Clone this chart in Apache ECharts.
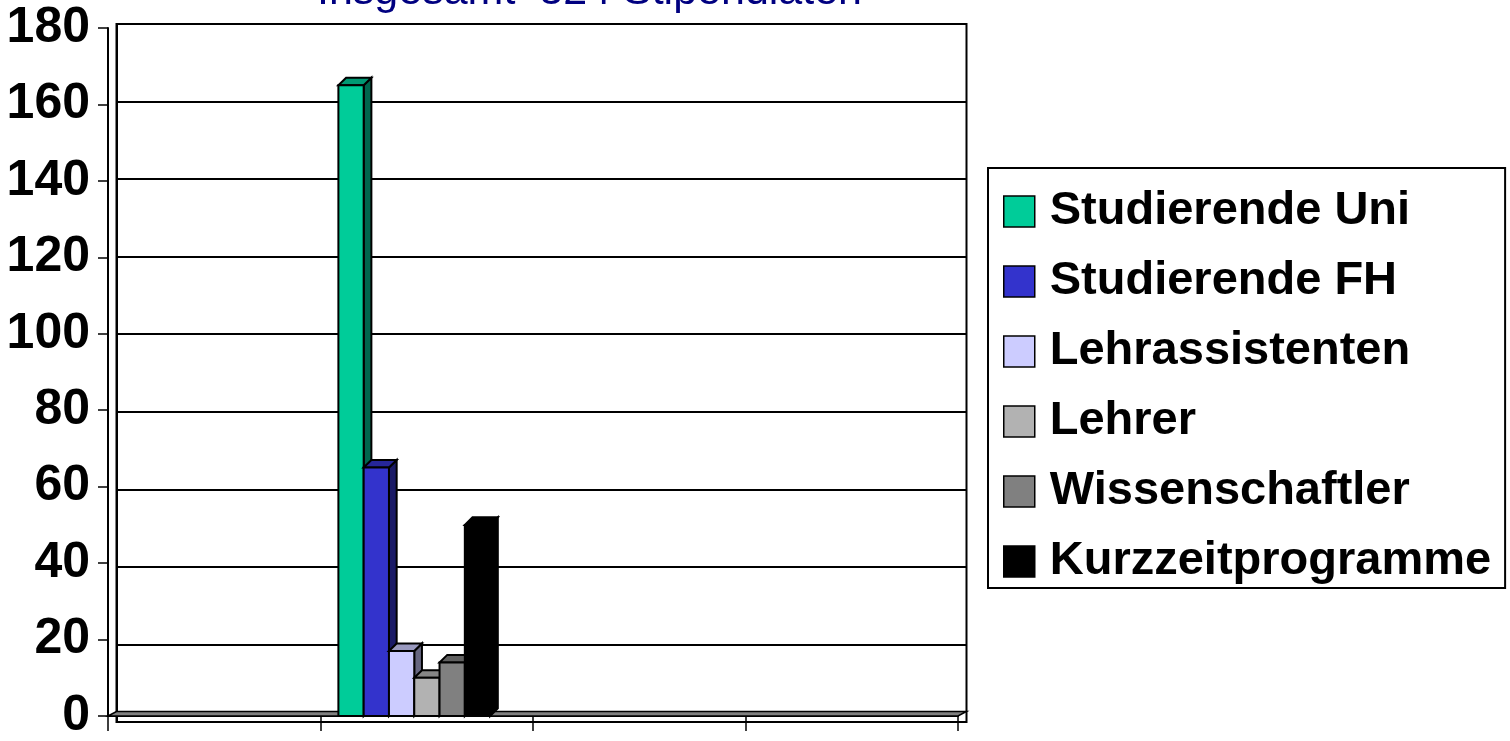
<!DOCTYPE html>
<html>
<head>
<meta charset="utf-8">
<title>Stipendiaten</title>
<script src="https://cdn.jsdelivr.net/npm/echarts@6/dist/echarts.min.js"></script>
<style>
  html, body { margin: 0; padding: 0; background: #fff; }
  #main { width: 1510px; height: 741px; }
</style>
</head>
<body>
<div id="main"></div>
<script>
// data
var categories = ['1', '2', '3', '4'];
var groupNames = ['Studierende Uni', 'Studierende FH', 'Lehrassistenten', 'Lehrer', 'Wissenschaftler', 'Kurzzeitprogramme'];
var groupValues = [165, 65, 17, 10, 14, 50];
var groupColors = ['#00CC99', '#3333CC', '#CCCCFF', '#B2B2B2', '#808080', '#000000'];
var yTicks = [0, 20, 40, 60, 80, 100, 120, 140, 160, 180];
var titleText = 'Insgesamt  324 Stipendiaten';

var FONT = '"Liberation Sans", Arial, sans-serif';
var DX = 7.7, DY = 7.6;   // fake 3d depth of the bars

function shade(hex, f) {
    var n = parseInt(hex.slice(1), 16);
    var r = Math.round(((n >> 16) & 255) * f);
    var g = Math.round(((n >> 8) & 255) * f);
    var b = Math.round((n & 255) * f);
    return 'rgb(' + r + ',' + g + ',' + b + ')';
}

function barRender(idx) {
    return function (params, api) {
        var cat = api.value(0), v = api.value(1);
        var p0 = api.coord([cat, 0]);
        var p1 = api.coord([cat, v]);
        var catW = api.size([1, 0])[0];
        var w = catW * 0.119;
        var x = p0[0] - 3 * w - 12.5 + idx * w;
        var y0 = p0[1], y1 = p1[1];
        var col = groupColors[idx];
        var st = { stroke: '#000', lineWidth: 2 };
        return {
            type: 'group',
            children: [
                { type: 'polygon', shape: { points: [[x + w, y1], [x + w + DX, y1 - DY], [x + w + DX, y0 - DY], [x + w, y0]] },
                  style: Object.assign({ fill: shade(col, 0.5) }, st) },
                { type: 'polygon', shape: { points: [[x, y1], [x + DX, y1 - DY], [x + w + DX, y1 - DY], [x + w, y1]] },
                  style: Object.assign({ fill: shade(col, 0.75) }, st) },
                { type: 'rect', shape: { x: x, y: y1, width: w, height: y0 - y1 },
                  style: Object.assign({ fill: col }, st) }
            ]
        };
    };
}

// floor of the 3d box
function floorRender(params, api) {
    var cs = params.coordSys;
    var yb = cs.y + cs.height;
    return {
        type: 'polygon',
        shape: { points: [[cs.x, yb], [cs.x + 8.5, yb - 4.5], [cs.x + cs.width + 8.5, yb - 4.5], [cs.x + cs.width, yb]] },
        style: { fill: '#808080', stroke: '#000', lineWidth: 1.5 }
    };
}

var series = [{
    name: 'floor',
    type: 'custom',
    xAxisIndex: 0, yAxisIndex: 0,
    renderItem: floorRender,
    data: [[0, 0]],
    silent: true,
    z: 1
}];
groupNames.forEach(function (n, i) {
    series.push({
        name: n,
        type: 'custom',
        xAxisIndex: 0, yAxisIndex: 0,
        renderItem: barRender(i),
        itemStyle: { color: groupColors[i], borderColor: '#000', borderWidth: 1.5 },
        data: [[1, groupValues[i]]],
        z: 2
    });
});

var myChart = echarts.init(document.getElementById('main'));
var option = {
    animation: false,
    backgroundColor: '#fff',
    title: {
        text: titleText,
        left: 312,
        top: -34,
        textStyle: { fontFamily: FONT, fontSize: 43, fontWeight: 'normal', color: '#000080' }
    },
    legend: {
        data: groupNames,
        orient: 'vertical',
        left: 988,
        top: 168,
        padding: [20, 14, 3, 15],
        borderColor: '#000',
        borderWidth: 2,
        icon: 'rect',
        itemWidth: 31,
        itemHeight: 31,
        itemGap: 23,
        selectedMode: false,
        itemStyle: { borderColor: '#000', borderWidth: 1.5 },
        textStyle: { fontFamily: FONT, fontSize: 47, fontWeight: 'bold', color: '#000', lineHeight: 40, padding: [0, 0, 0, 10] }
    },
    grid: [
        // front: axes
        { left: 108, right: 552, top: 28, bottom: 15, z: 3 },
        // back wall with gridlines
        { left: 116.5, right: 543.5, top: 24, bottom: 19, show: true, borderColor: '#000', borderWidth: 2, z: 0 }
    ],
    xAxis: [
        {
            gridIndex: 0,
            type: 'category',
            data: categories,
            boundaryGap: true,
            axisLine: { lineStyle: { color: '#000', width: 2 } },
            axisTick: { show: true, inside: false, length: 15, lineStyle: { color: '#000', width: 1.5 } },
            axisLabel: { show: false },
            splitLine: { show: false }
        },
        {
            gridIndex: 1,
            type: 'category',
            data: categories,
            show: false
        }
    ],
    yAxis: [
        {
            gridIndex: 0,
            type: 'value',
            min: yTicks[0],
            max: yTicks[yTicks.length - 1],
            interval: 20,
            axisLine: { show: true, lineStyle: { color: '#000', width: 2 } },
            axisTick: { show: true, length: 10, lineStyle: { color: '#000', width: 1.5 } },
            axisLabel: { margin: 18, fontFamily: FONT, fontSize: 50, fontWeight: 'bold', color: '#000' },
            splitLine: { show: false }
        },
        {
            gridIndex: 1,
            type: 'value',
            min: yTicks[0],
            max: yTicks[yTicks.length - 1],
            interval: 20,
            axisLine: { show: true, lineStyle: { color: '#000', width: 2 } },
            axisTick: { show: false },
            axisLabel: { show: false },
            splitLine: { show: true, lineStyle: { color: '#000', width: 2 } }
        }
    ],
    series: series
};
myChart.setOption(option);
</script>
</body>
</html>
